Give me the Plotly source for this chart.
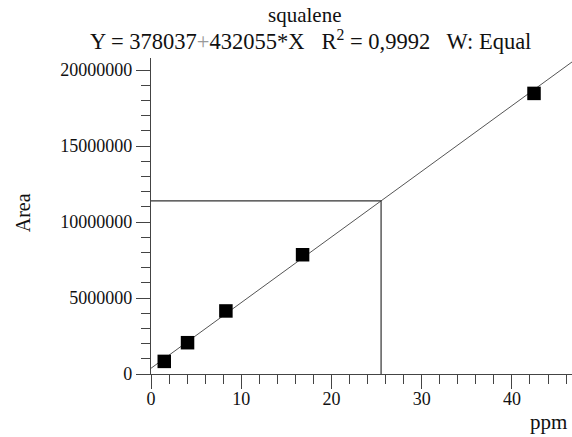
import plotly.graph_objects as go

# Data
conc_ppm = [1.47, 4.05, 8.3, 16.8, 42.45]
area = [830000, 2060000, 4150000, 7850000, 18470000]
intercept = 378037
slope = 432055
unknown_ppm = 25.5
x_ticks = [0, 10, 20, 30, 40]
y_ticks = [0, 5000000, 10000000, 15000000, 20000000]

W, H = 572, 437
L, R, T, B = 150.7, 0, 58, 62.7
x_max = 46.66
y_max = 20.8e6

unknown_area = intercept + slope * unknown_ppm
fit_x = [0, x_max]
fit_y = [intercept + slope * v for v in fit_x]

FONT = "Liberation Serif"

fig = go.Figure()
fig.add_trace(go.Scatter(x=fit_x, y=fit_y, mode="lines",
                         line=dict(color="#555555", width=1), hoverinfo="skip"))
fig.add_trace(go.Scatter(x=[0, unknown_ppm, unknown_ppm], y=[unknown_area, unknown_area, 0],
                         mode="lines", line=dict(color="#333333", width=1.2), hoverinfo="skip"))
fig.add_trace(go.Scatter(x=conc_ppm, y=area, mode="markers",
                         marker=dict(symbol="square", size=13.5, color="black",
                                     line=dict(width=0))))

fig.update_layout(
    width=W, height=H,
    margin=dict(l=L, r=R, t=T, b=B, pad=0),
    paper_bgcolor="white", plot_bgcolor="white",
    showlegend=False,
    font=dict(family=FONT, size=18, color="#111111"),
)
axis_common = dict(showgrid=False, zeroline=False, showline=True, linecolor="#444444",
                   linewidth=1.3, ticks="outside", tickcolor="#444444", tickwidth=1.2,
                   ticklen=14, tickfont=dict(family=FONT, size=18, color="#111111"))
fig.update_xaxes(range=[0, x_max], tickvals=x_ticks, ticktext=[str(v) for v in x_ticks],
                 ticklabelstandoff=-6,
                 minor=dict(dtick=2, ticklen=9, ticks="outside", tickcolor="#444444",
                            tickwidth=1.2, showgrid=False),
                 **axis_common)
fig.update_yaxes(range=[0, y_max], tickvals=y_ticks, ticktext=[str(v) for v in y_ticks],
                 minor=dict(dtick=1000000, ticklen=9, ticks="outside", tickcolor="#444444",
                            tickwidth=1.2, showgrid=False),
                 **axis_common)

pw = W - L - R
ph = H - T - B
def px(xp):
    return (xp - L) / pw
def py(yp):
    return (H - B - yp) / ph

ann = [
    dict(text="squalene", x=px(304), y=py(15), size=21),
    dict(text="Y = 378037<span style='color:#999999'>+</span>432055*X   R<sup>2</sup> = 0,9992   W: Equal",
         x=px(310), y=py(40), size=22.5),
    dict(text="Area", x=px(22), y=py(213), textangle=-90, size=20),
    dict(text="ppm", x=px(548), y=py(422), size=21),
]
for a in ann:
    s = a.pop("size")
    fig.add_annotation(xref="paper", yref="paper", showarrow=False,
                       xanchor="center", yanchor="middle",
                       font=dict(family=FONT, size=s, color="#111111"), **a)

fig.write_html("out.html", config={"displayModeBar": False},
               post_script="document.body.style.margin='0';")
